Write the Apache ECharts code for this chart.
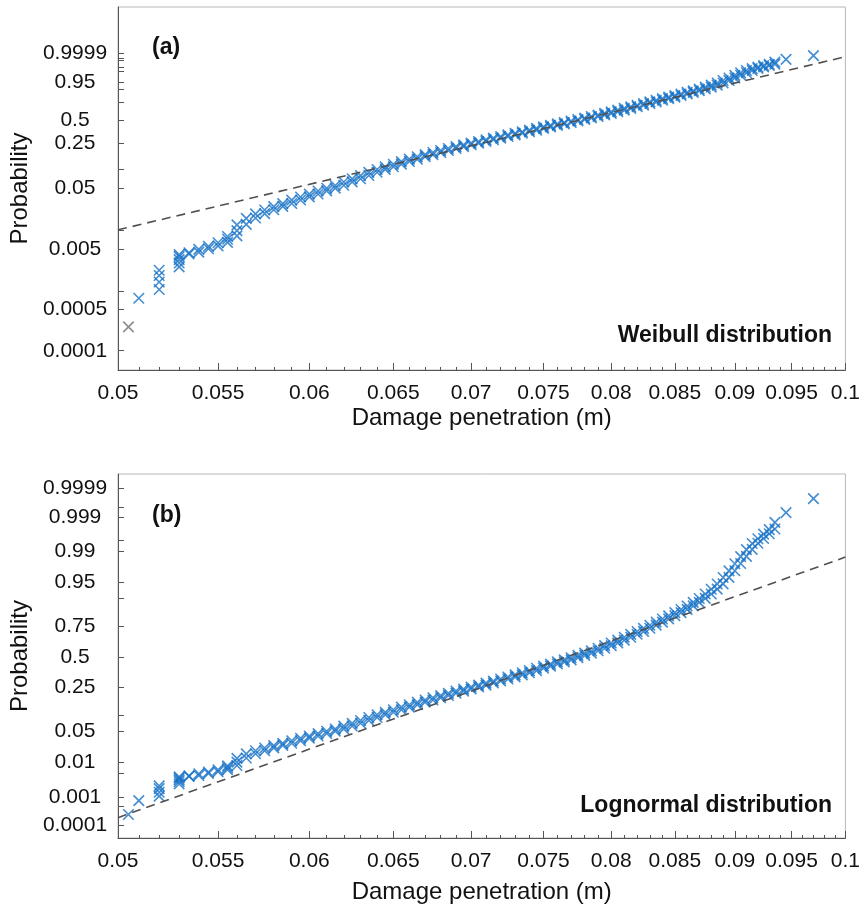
<!DOCTYPE html>
<html><head><meta charset="utf-8">
<script src="https://cdn.jsdelivr.net/npm/echarts@6.0.0/dist/echarts.min.js"></script>
<style>html,body{margin:0;padding:0;background:#fff}#c{width:863px;height:912px}</style>
</head><body><div id="c"></div>
<script>
// ---------- tick labels ----------
const xTickLabels = ['0.05','0.055','0.06','0.065','0.07','0.075','0.08','0.085','0.09','0.095','0.1'];
const xMinorTicks = [0.051,0.052,0.053,0.054,0.056,0.057,0.058,0.059,0.061,0.062,0.063,0.064,0.066,0.067,0.068,0.069,
  0.071,0.072,0.073,0.074,0.076,0.077,0.078,0.079,0.081,0.082,0.083,0.084,0.086,0.087,0.088,0.089,0.091,0.092,0.093,0.094,
  0.096,0.097,0.098,0.099];
const yLabelsA = ['0.0001','0.0005','0.005','0.05','0.25','0.5','0.95','0.9999'];
const yLabelsB = ['0.0001','0.001','0.01','0.05','0.25','0.5','0.75','0.95','0.99','0.999','0.9999'];
const yTickMarks = [0.0001,0.0005,0.001,0.005,0.01,0.05,0.1,0.25,0.5,0.75,0.9,0.95,0.99,0.995,0.999,0.9995,0.9999];

// ---------- data: damage penetration (m) and empirical probability ----------
const singleX = [0.0505, 0.051, 0.052, 0.052, 0.052, 0.052, 0.053, 0.053, 0.053, 0.053, 0.053, 0.0555, 0.056, 0.0945, 0.097];
const singleP = [0.00025, 0.00075, 0.00105, 0.0014, 0.0018, 0.0022, 0.0025, 0.0029, 0.0033, 0.0037, 0.0040, 0.0072, 0.0100, 0.99927, 0.99976];

const stackX = [0.0535,0.054,0.0545,0.055,0.0555,0.056,0.0565,0.057,0.0575,0.058,0.0585,0.059,0.0595,0.060,
  0.0605,0.061,0.0615,0.062,0.0625,0.063,0.0635,0.064,0.0645,0.065,0.0655,0.066,0.0665,0.067,0.0675,0.068,
  0.0685,0.069,0.0695,0.070,0.0705,0.071,0.0715,0.072,0.0725,0.073,0.0735,0.074,0.0745,0.075,0.0755,0.076,
  0.0765,0.077,0.0775,0.078,0.0785,0.079,0.0795,0.080,0.0805,0.081,0.0815,0.082,0.0825,0.083,0.0835,0.084,
  0.0845,0.085,0.0855,0.086,0.0865,0.087,0.0875,0.088,0.0885,0.089,0.0895,0.090,0.0905,0.091,0.0915,0.092,
  0.0925,0.093,0.0935];
const stackLow = [0.0041,0.0044,0.0050,0.0056,0.0064,0.0082,0.0127,0.0162,0.0192,0.0222,0.0252,0.0282,0.0322,0.0362,
  0.0403,0.0453,0.0503,0.0558,0.0633,0.0713,0.0803,0.0903,0.1003,0.1103,0.1213,0.1333,0.1453,0.1583,0.1703,0.1833,
  0.1963,0.2103,0.2243,0.2383,0.2523,0.2663,0.2813,0.2963,0.3123,0.3283,0.3453,0.3623,0.3803,0.4003,0.4183,0.4363,
  0.4553,0.4733,0.4923,0.5123,0.5323,0.5533,0.5753,0.5973,0.6203,0.6433,0.6673,0.6903,0.7123,0.7353,0.7573,0.7783,
  0.7983,0.8173,0.8353,0.8523,0.8693,0.8853,0.9013,0.9173,0.9323,0.9463,0.9603,0.9713,0.9803,0.9867,0.9911,0.9939,
  0.9955,0.9967,0.9976];
const stackHigh = [0.0043,0.0049,0.0055,0.0063,0.0080,0.0125,0.0160,0.0190,0.0220,0.0250,0.0280,0.0320,0.0360,0.0400,
  0.0450,0.0500,0.0555,0.0630,0.0710,0.0800,0.0900,0.100,0.110,0.121,0.133,0.145,0.158,0.170,0.183,0.196,
  0.210,0.224,0.238,0.252,0.266,0.281,0.296,0.312,0.328,0.345,0.362,0.380,0.400,0.418,0.436,0.455,
  0.473,0.492,0.512,0.532,0.553,0.575,0.597,0.620,0.643,0.667,0.690,0.712,0.735,0.757,0.778,0.798,
  0.817,0.835,0.852,0.869,0.885,0.901,0.917,0.932,0.946,0.960,0.971,0.980,0.9865,0.9910,0.9938,0.9954,
  0.9966,0.9975,0.9985];

// fitted distributions (dashed lines)
const weibullShape = 9.59, weibullScale = 0.0805;
const lognormMedian = 0.0767, lognormSigma = 0.1205;
const fitRange = [0.05, 0.1];

// ---------- probability-paper transforms ----------
const lx = x => Math.log(x);
const weib = p => Math.log(-Math.log(1 - p));
function probit(p){
  const a=[-3.969683028665376e+01,2.209460984245205e+02,-2.759285104469687e+02,1.383577518672690e+02,-3.066479806614716e+01,2.506628277459239e+00];
  const b=[-5.447609879822406e+01,1.615858368580409e+02,-1.556989798598866e+02,6.680131188771972e+01,-1.328068155288572e+01];
  const c=[-7.784894002430293e-03,-3.223964580411365e-01,-2.400758277161838e+00,-2.549732539343734e+00,4.374664141464968e+00,2.938163982698783e+00];
  const d=[7.784695709041462e-03,3.224671290700398e-01,2.445134137142996e+00,3.754408661907416e+00];
  const pl=0.02425, ph=1-pl; let q,r;
  if(p<pl){q=Math.sqrt(-2*Math.log(p));return (((((c[0]*q+c[1])*q+c[2])*q+c[3])*q+c[4])*q+c[5])/((((d[0]*q+d[1])*q+d[2])*q+d[3])*q+1);}
  if(p<=ph){q=p-0.5;r=q*q;return (((((a[0]*r+a[1])*r+a[2])*r+a[3])*r+a[4])*r+a[5])*q/(((((b[0]*r+b[1])*r+b[2])*r+b[3])*r+b[4])*r+1);}
  q=Math.sqrt(-2*Math.log(1-p));return -(((((c[0]*q+c[1])*q+c[2])*q+c[3])*q+c[4])*q+c[5])/((((d[0]*q+d[1])*q+d[2])*q+d[3])*q+1);
}

const pts = [];
singleX.forEach((x,i)=>pts.push([x, singleP[i]]));
stackX.forEach((x,i)=>{ pts.push([x, stackLow[i]]); pts.push([x, stackHigh[i]]); });

const BLUE = '#1570c6';
const FONT = '"Liberation Sans", Arial, sans-serif';
const crossSym = 'path://M0 0L10 10M10 0L0 10';

function labelFmt(labels, tf){
  return v => { let best='', bd=1e9; labels.forEach(s=>{const d=Math.abs(tf(parseFloat(s))-v); if(d<bd){bd=d;best=s;}}); return best; };
}
const xMin = lx(0.05), xMax = lx(0.1);
function xMain(gi, gap){
  return { type:'value', gridIndex:gi, min:xMin, max:xMax, position:'bottom',
    name:'Damage penetration (m)', nameLocation:'middle', nameGap:gap,
    nameTextStyle:{fontFamily:FONT, fontSize:24, color:'#111'},
    axisLine:{show:true, onZero:false, lineStyle:{color:'#555', width:1}},
    axisTick:{show:true, inside:true, length:7, lineStyle:{color:'#555'}, customValues: xTickLabels.map(s=>lx(parseFloat(s)))},
    axisLabel:{show:true, margin:13, fontFamily:FONT, fontSize:21, color:'#111', customValues: xTickLabels.map(s=>lx(parseFloat(s))),
      formatter: labelFmt(xTickLabels, lx)},
    splitLine:{show:false} };
}
function xMinor(gi){
  return { type:'value', gridIndex:gi, min:xMin, max:xMax, position:'bottom',
    axisLine:{show:false, onZero:false},
    axisTick:{show:true, inside:true, length:3, lineStyle:{color:'#555'}, customValues: xMinorTicks.map(lx)},
    axisLabel:{show:false}, splitLine:{show:false} };
}
function yAx(gi, rng, labels, tf){
  return { type:'value', gridIndex:gi, min:rng[0], max:rng[1], position:'left',
    name:'Probability', nameLocation:'middle', nameGap:80,
    nameTextStyle:{fontFamily:FONT, fontSize:24, color:'#111'},
    axisLine:{show:true, onZero:false, lineStyle:{color:'#555', width:1}},
    axisTick:{show:true, inside:true, length:6, lineStyle:{color:'#555'}, customValues: yTickMarks.map(tf)},
    axisLabel:{show:true, margin:43, align:'center', fontFamily:FONT, fontSize:21, color:'#111',
      customValues: labels.map(s=>tf(parseFloat(s))), formatter: labelFmt(labels, tf)},
    splitLine:{show:false} };
}

const weibFit = x => weibullShape * (Math.log(x) - Math.log(weibullScale));
const lognFit = x => (Math.log(x) - Math.log(lognormMedian)) / lognormSigma;

const markStyle = {color:'rgba(0,0,0,0)', borderColor:BLUE, borderWidth:1.6};
const option = {
  animation:false,
  backgroundColor:'#fff',
  grid:[
    {left:118, top:7, width:730, height:363, show:true, borderColor:'#b8b8b8', borderWidth:1, backgroundColor:'transparent'},
    {left:118, top:474, width:730, height:364, show:true, borderColor:'#b8b8b8', borderWidth:1, backgroundColor:'transparent'}
  ],
  xAxis:[ xMain(0, 36), xMinor(0), xMain(1, 42), xMinor(1) ],
  yAxis:[ yAx(0, [-9.95, 3.99], yLabelsA, weib), yAx(1, [-4.0, 4.035], yLabelsB, probit) ],
  series:[
    { type:'scatter', xAxisIndex:0, yAxisIndex:0, symbol:crossSym, symbolSize:10.5, itemStyle:markStyle,
      data: pts.map(([x,p],i)=> i===0 ? {value:[lx(x), weib(p)], itemStyle:{borderColor:'#707070'}} : [lx(x), weib(p)]) },
    { type:'line', xAxisIndex:0, yAxisIndex:0, symbol:'none', z:5,
      lineStyle:{color:'#505050', width:1.6, type:[9,6]},
      data: fitRange.map(x=>[lx(x), weibFit(x)]) },
    { type:'scatter', xAxisIndex:2, yAxisIndex:1, symbol:crossSym, symbolSize:10.5, itemStyle:markStyle,
      data: pts.map(([x,p])=>[lx(x), probit(p)]) },
    { type:'line', xAxisIndex:2, yAxisIndex:1, symbol:'none', z:5,
      lineStyle:{color:'#505050', width:1.6, type:[9,6]},
      data: fitRange.map(x=>[lx(x), lognFit(x)]) }
  ],
  graphic:[
    {type:'text', x:152, y:48, style:{text:'(a)', font:'bold 23px '+FONT, fill:'#111', verticalAlign:'middle', align:'left'}},
    {type:'text', x:152, y:516, style:{text:'(b)', font:'bold 23px '+FONT, fill:'#111', verticalAlign:'middle', align:'left'}},
    {type:'text', x:832, y:336, style:{text:'Weibull distribution', font:'bold 23px '+FONT, fill:'#111', verticalAlign:'middle', align:'right'}},
    {type:'text', x:832, y:806, style:{text:'Lognormal distribution', font:'bold 23px '+FONT, fill:'#111', verticalAlign:'middle', align:'right'}}
  ]
};
const chart = echarts.init(document.getElementById('c'), null, {renderer:'canvas'});
chart.setOption(option);
</script></body></html>
